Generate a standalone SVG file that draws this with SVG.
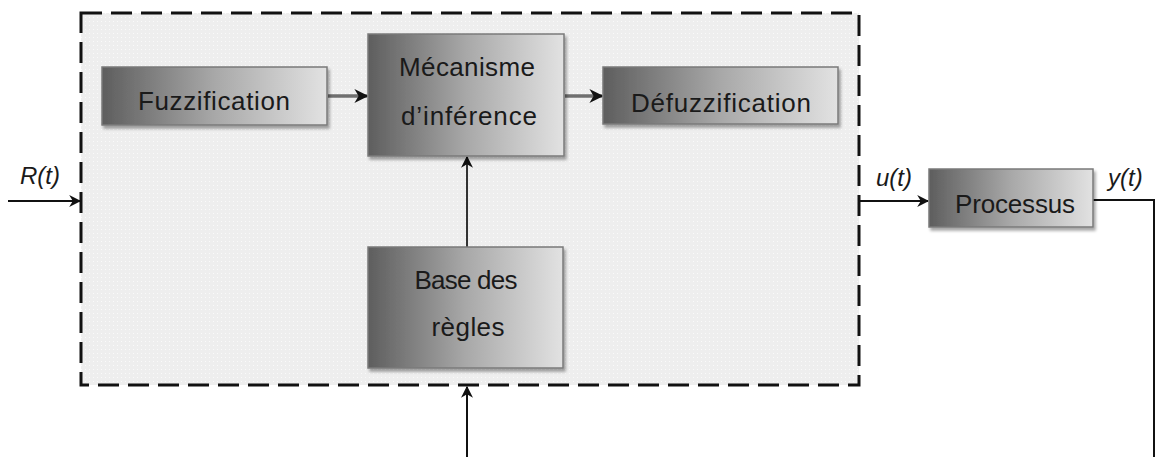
<svg xmlns="http://www.w3.org/2000/svg" width="1157" height="457" viewBox="0 0 1157 457">
  <style>
    .box { stroke: #7a7a7a; stroke-width: 1.5; filter: url(#shadow); }
    .lbl { font-family: "Liberation Sans", Arial, sans-serif; font-size: 26px; fill: #1a1a1a; text-anchor: middle; }
    .sig { font-family: "Liberation Sans", Arial, sans-serif; font-size: 24px; font-style: italic; fill: #1a1a1a; }
    .ext { stroke: #111; stroke-width: 2; fill: none; }
    .int { stroke: #6e6e6e; stroke-width: 3.5; fill: none; }
    .intv { stroke: #333; stroke-width: 2; fill: none; }
  </style>
  <defs>
    <linearGradient id="g" x1="0" y1="0" x2="1" y2="0">
      <stop offset="0" stop-color="#5e5e5e"/>
      <stop offset="0.5" stop-color="#a8a8a8"/>
      <stop offset="1" stop-color="#e2e2e2"/>
    </linearGradient>
    <pattern id="dots" width="4" height="4" patternUnits="userSpaceOnUse">
      <rect width="4" height="4" fill="#eeeeee"/>
      <rect x="1" y="1" width="1" height="1" fill="#fafafa"/>
    </pattern>
    <filter id="shadow" x="-10%" y="-10%" width="130%" height="140%">
      <feDropShadow dx="2" dy="3" stdDeviation="1.5" flood-color="#000" flood-opacity="0.35"/>
    </filter>
    <marker id="ah" viewBox="0 0 10 10" refX="9" refY="5" markerWidth="12" markerHeight="12" markerUnits="userSpaceOnUse" orient="auto">
      <path d="M0,0 L10,5 L0,10 L3,5 Z" fill="#111"/>
    </marker>
    <marker id="ahs" viewBox="0 0 10 10" refX="9" refY="5" markerWidth="4" markerHeight="4" orient="auto">
      <path d="M0,0 L10,5 L0,10 L3,5 Z" fill="#111"/>
    </marker>
  </defs>

  <g id="controller">
    <rect x="81" y="13" width="778" height="372" fill="url(#dots)" stroke="#111" stroke-width="3" stroke-dasharray="21 9"/>
  </g>

  <g id="connectors">
    <line class="ext" x1="8" y1="201" x2="80" y2="201" marker-end="url(#ah)"/>
    <line class="int" x1="328" y1="96" x2="367" y2="96" marker-end="url(#ahs)"/>
    <line class="int" x1="565" y1="96" x2="602" y2="96" marker-end="url(#ahs)"/>
    <line class="intv" x1="467" y1="247" x2="467" y2="157" marker-end="url(#ah)"/>
    <line class="ext" x1="860" y1="201" x2="928" y2="201" marker-end="url(#ah)"/>
    <polyline class="ext" points="1093,200 1154,200 1154,457"/>
    <line class="ext" x1="467" y1="457" x2="467" y2="387" marker-end="url(#ah)"/>
  </g>

  <g id="fuzzification">
    <rect class="box" x="102" y="67" width="225" height="58" fill="url(#g)"/>
    <text class="lbl" x="214" y="110" textLength="152" lengthAdjust="spacing">Fuzzification</text>
  </g>

  <g id="mecanisme">
    <rect class="box" x="368" y="34" width="196" height="122" fill="url(#g)"/>
    <text class="lbl" x="467" y="76" textLength="136" lengthAdjust="spacing">Mécanisme</text>
    <text class="lbl" x="469" y="125" textLength="136" lengthAdjust="spacing">d’inférence</text>
  </g>

  <g id="defuzzification">
    <rect class="box" x="603" y="67" width="235" height="57" fill="url(#g)"/>
    <text class="lbl" x="721" y="112" textLength="180" lengthAdjust="spacing">Défuzzification</text>
  </g>

  <g id="base">
    <rect class="box" x="368" y="247" width="195" height="121" fill="url(#g)"/>
    <text class="lbl" x="466" y="289" textLength="103" lengthAdjust="spacing">Base des</text>
    <text class="lbl" x="468" y="336" textLength="73" lengthAdjust="spacing">règles</text>
  </g>

  <g id="processus">
    <rect class="box" x="929" y="169" width="164" height="58" fill="url(#g)"/>
    <text class="lbl" x="1015" y="213" textLength="120" lengthAdjust="spacing">Processus</text>
  </g>

  <g id="labels">
    <text class="sig" x="20" y="184">R(t)</text>
    <text class="sig" x="876" y="186">u(t)</text>
    <text class="sig" x="1108" y="186">y(t)</text>
  </g>
</svg>
